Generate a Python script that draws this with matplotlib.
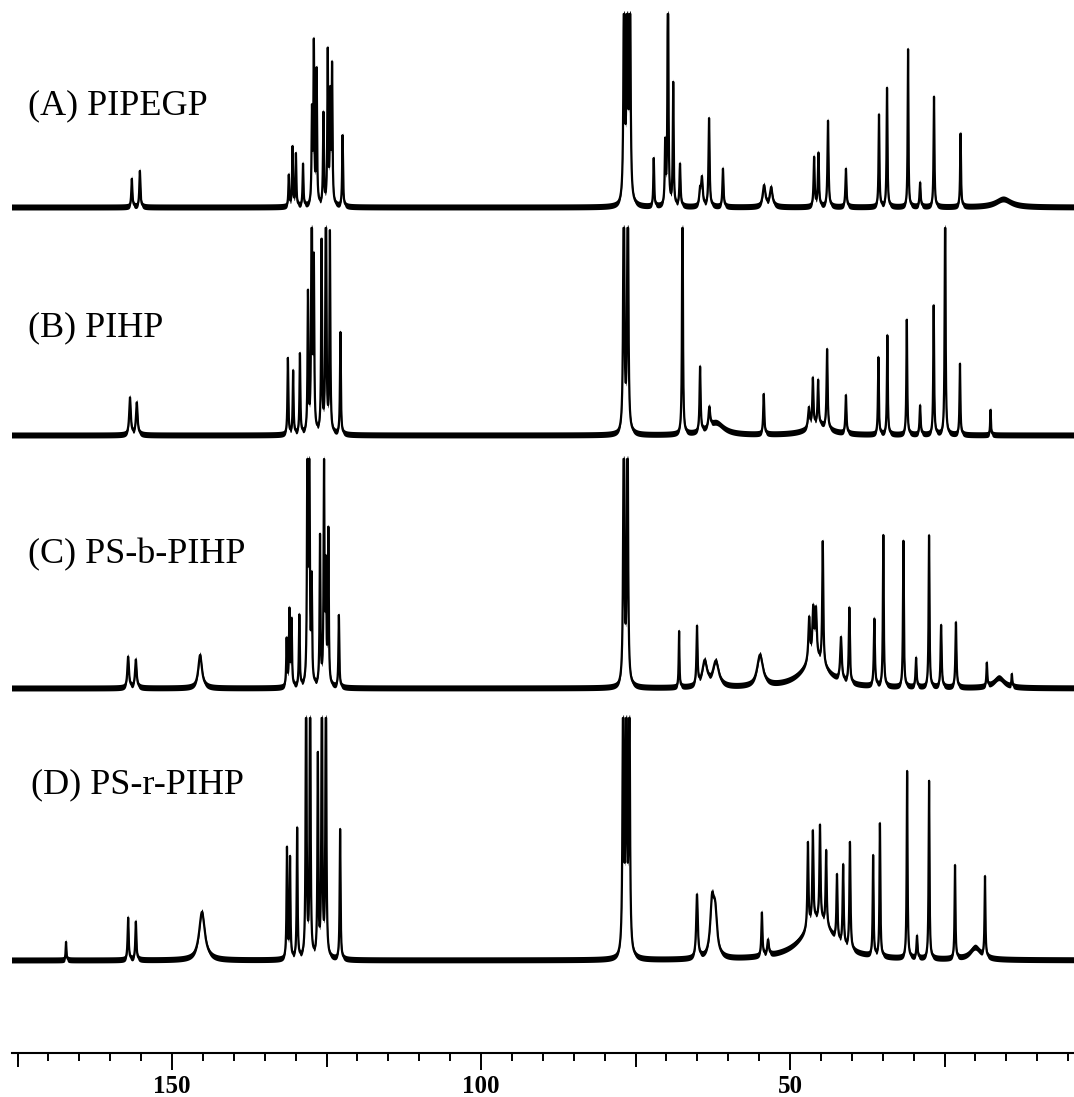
import numpy as np
import matplotlib
matplotlib.use('Agg')
import matplotlib.pyplot as plt
from matplotlib.ticker import MultipleLocator

# 13C NMR peak lists: shift (ppm), height, half width (ppm)
a_ppm = [156.5, 155.2, 131.1, 130.5, 129.95, 128.8, 127.35, 127.05, 126.6, 125.5, 124.8, 124.4, 124.1, 122.4,
         76.85, 76.35, 75.9, 72.05, 70.2, 69.75, 68.9, 67.8, 64.55, 64.25, 63.1, 60.85, 54.2, 53.05,
         46.1, 45.4, 43.85, 40.95, 35.6, 34.3, 30.9, 28.95, 26.7, 22.4, 15.5]
a_height = [28, 36, 31, 59, 52, 42, 90, 158, 133, 91, 152, 105, 136, 71,
            280, 280, 280, 48, 60, 280, 122, 42, 15, 27, 88, 38, 21, 19,
            49, 53, 86, 38, 92, 119, 158, 24, 110, 73, 8]
a_width = [0.1, 0.1, 0.08, 0.08, 0.08, 0.08, 0.08, 0.08, 0.08, 0.08, 0.08, 0.08, 0.08, 0.08,
           0.1, 0.1, 0.1, 0.08, 0.08, 0.08, 0.08, 0.1, 0.15, 0.15, 0.1, 0.1, 0.25, 0.25,
           0.1, 0.1, 0.1, 0.1, 0.08, 0.08, 0.07, 0.1, 0.08, 0.08, 1.5]

b_ppm = [156.8, 155.7, 131.25, 130.4, 129.3, 128.0, 127.4, 127.05, 125.8, 125.1, 124.45, 122.75,
         76.9, 76.25, 67.4, 64.55, 63.05, 62.0, 54.25, 46.95, 46.3, 45.45, 44.0, 45.5, 40.95,
         35.7, 34.25, 31.1, 28.95, 26.75, 24.9, 22.5, 17.55]
b_height = [37, 32, 76, 63, 80, 138, 300, 165, 190, 300, 199, 102,
            300, 300, 300, 65, 20, 12, 40, 20, 47, 44, 79, 10, 38,
            77, 99, 115, 29, 129, 300, 71, 25]
b_width = [0.15, 0.15, 0.08, 0.08, 0.08, 0.08, 0.08, 0.08, 0.08, 0.08, 0.08, 0.08,
           0.1, 0.1, 0.07, 0.1, 0.15, 1.5, 0.1, 0.15, 0.1, 0.1, 0.1, 2.0, 0.1,
           0.08, 0.08, 0.08, 0.1, 0.08, 0.07, 0.08, 0.07]

c_ppm = [157.1, 155.85, 145.45, 131.45, 131.0, 130.65, 129.4, 128.1, 127.8, 127.4, 126.05, 125.4,
         125.1, 124.7, 123.0, 76.9, 76.3, 67.95, 65.05, 63.8, 62.0, 54.85, 46.0, 46.9, 46.25,
         45.8, 44.7, 41.75, 40.4, 36.35, 34.9, 31.65, 29.6, 27.5, 25.55, 23.15, 18.15, 16.2, 14.1]
c_height = [31, 28, 33, 47, 75, 65, 71, 221, 320, 100, 148, 225,
            110, 153, 72, 320, 320, 56, 58, 25, 25, 31, 28, 43, 48,
            47, 123, 43, 75, 67, 151, 146, 29, 152, 62, 65, 23, 10, 12]
c_width = [0.15, 0.15, 0.35, 0.08, 0.08, 0.08, 0.08, 0.08, 0.08, 0.08, 0.08, 0.08,
           0.08, 0.08, 0.08, 0.1, 0.1, 0.07, 0.1, 0.45, 0.55, 0.55, 2.5, 0.15, 0.15,
           0.15, 0.1, 0.15, 0.1, 0.1, 0.08, 0.08, 0.1, 0.08, 0.1, 0.1, 0.08, 1.0, 0.07]

d_ppm = [167.15, 157.1, 155.85, 145.15, 131.4, 130.9, 129.75, 128.3, 127.65, 126.4, 125.75, 125.1,
         122.8, 77.0, 76.5, 76.0, 65.05, 62.6, 62.1, 54.55, 53.55, 45.5, 47.1, 46.3, 45.15,
         44.15, 42.4, 41.4, 40.3, 36.55, 35.45, 31.05, 29.45, 27.5, 23.3, 20.05, 18.45]
d_height = [18, 42, 38, 48, 110, 100, 130, 330, 330, 200, 330, 330,
            130, 330, 330, 330, 63, 53, 40, 43, 15, 40, 85, 90, 94,
            75, 65, 80, 107, 100, 133, 187, 22, 178, 93, 12, 80]
d_width = [0.07, 0.1, 0.1, 0.55, 0.08, 0.08, 0.08, 0.08, 0.08, 0.08, 0.08, 0.08,
           0.08, 0.1, 0.1, 0.1, 0.15, 0.35, 0.35, 0.1, 0.15, 3.0, 0.1, 0.1, 0.1,
           0.1, 0.1, 0.1, 0.1, 0.08, 0.08, 0.08, 0.1, 0.08, 0.08, 1.0, 0.08]

labels = ['(A) PIPEGP', '(B) PIHP', '(C) PS-b-PIHP', '(D) PS-r-PIHP']

ppm = np.linspace(176.5, 3.5, 20000)


def spectrum(pos, height, width):
    y = np.zeros_like(ppm)
    for p, h, w in zip(pos, height, width):
        y += h * w ** 2 / ((ppm - p) ** 2 + w ** 2)
    return y


W, H = 1074, 1097
fig = plt.figure(figsize=(W / 100, H / 100), dpi=100)
ax = fig.add_axes([12 / W, 44 / H, (W - 12) / W, (H - 44) / H])

# baseline y (pixels above the axis line) and clip level of each trace
offsets = [846, 618, 365, 93]
clips = [193, 207, 229, 242]
peaks = [(a_ppm, a_height, a_width), (b_ppm, b_height, b_width),
         (c_ppm, c_height, c_width), (d_ppm, d_height, d_width)]

for (pos, hgt, wid), off, clip in zip(peaks, offsets, clips):
    y = np.minimum(spectrum(pos, hgt, wid), clip) + off
    ax.fill_between(ppm, y - 3, y + 3, color='black', lw=0)
    ax.plot(ppm, y, color='black', lw=1.6)

label_pos = [(28, 114), (28, 336), (28, 563), (31, 793)]
for txt, (lx, ly) in zip(labels, label_pos):
    fig.text(lx / W, 1 - ly / H, txt, fontsize=26, family='Liberation Serif',
             ha='left', va='baseline')

ax.set_xlim(150 + (172 - 12) / 6.18, 150 - (W - 172) / 6.18)
ax.set_ylim(0, H - 44)

for s in ['top', 'left', 'right']:
    ax.spines[s].set_visible(False)
ax.spines['bottom'].set_linewidth(1.5)
ax.set_yticks([])
ax.xaxis.set_major_locator(MultipleLocator(50))
ax.xaxis.set_minor_locator(MultipleLocator(5))
ax.tick_params(axis='x', which='major', direction='out', length=12.5, width=1.4, pad=3)
ax.tick_params(axis='x', which='minor', direction='out', length=6, width=1.4)
for lab in ax.get_xticklabels():
    lab.set_fontfamily('Liberation Serif')
    lab.set_fontweight('bold')
    lab.set_fontsize(18)

# medium ticks every 25 ppm
for t in [25, 75, 125, 175]:
    ax.plot([t, t], [0, -14], color='black', lw=1.4, clip_on=False, solid_capstyle='butt')

fig.savefig('out.png', dpi=100)
